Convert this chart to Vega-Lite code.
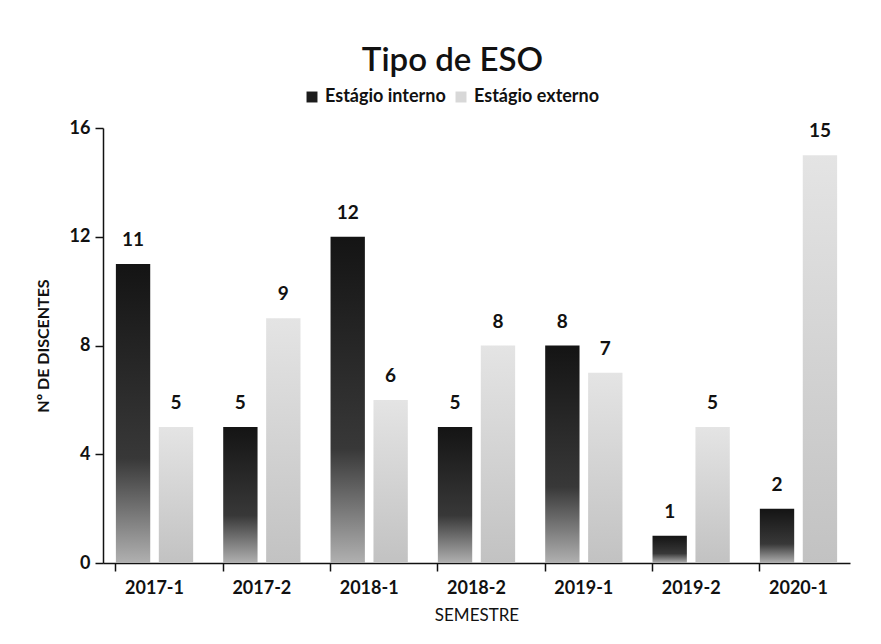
{
  "$schema": "https://vega.github.io/schema/vega-lite/v6.json",
  "width": 747,
  "height": 435,
  "autosize": "none",
  "padding": {"left": 103, "top": 128, "right": 31, "bottom": 81},
  "background": "white",
  "title": {"text": "Tipo de ESO", "fontSize": 33, "font": "Lato", "fontWeight": 600, "color": "#111", "anchor": "middle", "dx": -24, "offset": 10},
  "data": {"values": [
    {"semestre": "2017-1", "tipo": "Estágio interno", "n": 11},
    {"semestre": "2017-1", "tipo": "Estágio externo", "n": 5},
    {"semestre": "2017-2", "tipo": "Estágio interno", "n": 5},
    {"semestre": "2017-2", "tipo": "Estágio externo", "n": 9},
    {"semestre": "2018-1", "tipo": "Estágio interno", "n": 12},
    {"semestre": "2018-1", "tipo": "Estágio externo", "n": 6},
    {"semestre": "2018-2", "tipo": "Estágio interno", "n": 5},
    {"semestre": "2018-2", "tipo": "Estágio externo", "n": 8},
    {"semestre": "2019-1", "tipo": "Estágio interno", "n": 8},
    {"semestre": "2019-1", "tipo": "Estágio externo", "n": 7},
    {"semestre": "2019-2", "tipo": "Estágio interno", "n": 1},
    {"semestre": "2019-2", "tipo": "Estágio externo", "n": 5},
    {"semestre": "2020-1", "tipo": "Estágio interno", "n": 2},
    {"semestre": "2020-1", "tipo": "Estágio externo", "n": 15}
  ]},
  "encoding": {
    "x": {"field": "semestre", "type": "nominal", "sort": null,
      "scale": {"paddingInner": 0.28, "paddingOuter": 0.12},
      "axis": {"title": "SEMESTRE", "titleFont": "Lato", "titleFontSize": 17, "titleFontWeight": "normal", "titleColor": "#111", "titlePadding": 10,
        "labelAngle": 0, "labelFont": "Lato", "labelFontSize": 18, "labelFontWeight": "bold", "labelColor": "#111", "labelPadding": 8,
        "bandPosition": 0, "tickSize": 8, "tickColor": "#111", "domainColor": "#111", "domainWidth": 1.5, "tickWidth": 1.5}},
    "xOffset": {"field": "tipo", "type": "nominal", "sort": ["Estágio interno", "Estágio externo"], "scale": {"paddingInner": 0.2}},
    "y": {"field": "n", "type": "quantitative",
      "scale": {"domain": [0, 16]},
      "axis": {"title": "Nº DE DISCENTES", "titleFont": "Lato", "titleFontSize": 16, "titleFontWeight": "bold", "titleColor": "#111", "titlePadding": 18,
        "values": [0, 4, 8, 12, 16], "grid": false, "labelFont": "Lato", "labelFontSize": 18, "labelFontWeight": "bold", "labelColor": "#111",
        "tickSize": 8, "tickColor": "#111", "domainColor": "#111", "domainWidth": 1.5, "tickWidth": 1.5, "labelPadding": 5}}
  },
  "layer": [
    {
      "transform": [{"filter": "datum.tipo === 'Estágio interno'"}],
      "mark": {"type": "bar", "color": {"gradient": "linear", "x1": 0, "y1": 0, "x2": 0, "y2": 1, "stops": [{"offset": 0, "color": "#141414"}, {"offset": 0.65, "color": "#383838"}, {"offset": 1, "color": "#b0b0b0"}]}}
    },
    {
      "transform": [{"filter": "datum.tipo === 'Estágio externo'"}],
      "mark": {"type": "bar", "color": {"gradient": "linear", "x1": 0, "y1": 0, "x2": 0, "y2": 1, "stops": [{"offset": 0, "color": "#e4e4e4"}, {"offset": 1, "color": "#c2c2c2"}]}}
    },
    {
      "mark": {"type": "bar"},
      "encoding": {
        "y": {"datum": 0, "type": "quantitative"},
        "y2": {"datum": 0},
        "color": {"field": "tipo", "type": "nominal", "sort": ["Estágio interno", "Estágio externo"],
          "scale": {"domain": ["Estágio interno", "Estágio externo"], "range": ["#1c1c1c", "#d8d8d8"]},
          "legend": {"title": null, "orient": "none", "direction": "horizontal", "legendX": 200, "legendY": -40,
            "labelFont": "Lato", "labelFontSize": 18, "labelFontWeight": "bold", "labelColor": "#111", "symbolType": "square", "symbolSize": 120, "columnPadding": 6, "symbolStrokeWidth": 0}}
      }
    },
    {
      "mark": {"type": "text", "baseline": "bottom", "dy": -14, "font": "Lato", "fontSize": 19, "fontWeight": "bold", "color": "#111"},
      "encoding": {"text": {"field": "n", "type": "quantitative"}}
    }
  ],
  "config": {"view": {"stroke": null}}
}
